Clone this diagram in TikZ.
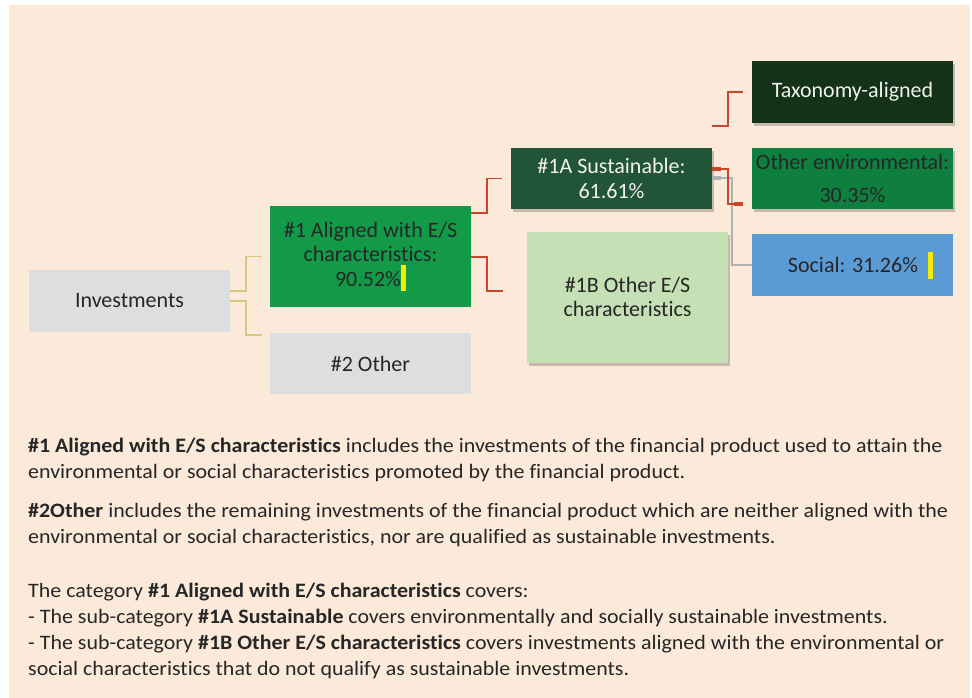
\documentclass[tikz,border=0pt]{standalone}
\usepackage{fontspec}
\setmainfont{Carlito}[Ligatures=NoCommon]
\newfontfamily\bodyfont{Carlito}[Ligatures=NoCommon,FakeStretch=1.07]
\usetikzlibrary{shadows}
\definecolor{bgpeach}{HTML}{FBEADA}
\definecolor{boxgray}{HTML}{DDDEE0}
\definecolor{greenA}{HTML}{139A48}
\definecolor{greenS}{HTML}{225438}
\definecolor{greenT}{HTML}{133217}
\definecolor{greenE}{HTML}{0F7F3F}
\definecolor{blueS}{HTML}{5B9BD5}
\definecolor{greenL}{HTML}{C5E0B4}
\definecolor{redc}{HTML}{C8472B}
\definecolor{yelc}{HTML}{D6C67E}
\definecolor{grayc}{HTML}{B0B0B0}
\definecolor{ybar}{HTML}{F5EC00}
\definecolor{darktext}{HTML}{262626}
\definecolor{lighttext}{HTML}{F2F2F2}
\tikzset{
  box/.style={rectangle, inner sep=0pt, align=center, text=darktext,
    font=\fontsize{22}{24.5}\selectfont},
  shad/.style={drop shadow={shadow xshift=2pt, shadow yshift=-3pt, opacity=0.3, fill=black!70}},
  yelline/.style={draw=yelc, line width=1.6pt},
  redline/.style={draw=redc, line width=1.8pt},
  grayline/.style={draw=grayc, line width=1.6pt},
  bodytext/.style={anchor=base west, align=left, inner sep=0pt, text=darktext,
    font=\bodyfont\fontsize{20.5}{26}\selectfont},
}
\begin{document}
\begin{tikzpicture}[x=1pt,y=-1pt]
\useasboundingbox (0,0) rectangle (972,698);
\fill[white] (0,0) rectangle (972,698);
\fill[bgpeach] (9,5) rectangle (970,698);

\node[box, fill=boxgray, minimum width=201pt, minimum height=62pt] (inv) at (129.5,301) {Investments};
\node[box, fill=greenA, minimum width=201pt, minimum height=101pt] (a1) at (370.5,256.5)
  {\#1 Aligned with E/S\\characteristics:\\90.52\%\textcolor{ybar}{\rule[-5pt]{5pt}{26pt}}};
\node[box, fill=boxgray, minimum width=201pt, minimum height=61pt] (a2) at (370.5,363.5) {\#2 Other};
\node[box, shad, fill=greenS, text=lighttext, minimum width=201pt, minimum height=61pt] (s1a) at (611.5,178.5)
  {\#1A Sustainable:\\61.61\%};
\node[box, shad, fill=greenL, minimum width=201pt, minimum height=131pt] (s1b) at (627.5,297)
  {\#1B Other E/S\\characteristics};
\node[box, shad, fill=greenT, text=lighttext, minimum width=201pt, minimum height=62pt] (tax) at (852.5,92)
  {Taxonomy-aligned};
\node[box, shad, fill=greenE, minimum width=201pt, minimum height=61pt] (env) at (852.5,178.5)
  {Other environmental:\\[9pt]30.35\%};
\node[box, fill=blueS, minimum width=201pt, minimum height=62pt] (soc) at (852.5,265)
  {\hspace*{16pt}Social: 31.26\%\hspace{10pt}\textcolor{ybar}{\rule[-6.5pt]{5pt}{27pt}}};

% connectors from Investments
\draw[yelline] ([yshift=10pt]inv.east) -- ++(16,0) |- ([xshift=-8pt]a1.west);
\draw[yelline] (inv.east) -- ++(16,0) |- ([xshift=-8pt,yshift=-2pt]a2.north west);

% connectors from #1
\draw[redline] ([yshift=43.5pt]a1.east) -- ++(16,0) |- ([xshift=-9pt]s1a.west);
\draw[redline] ([yshift=-0.5pt]a1.east) -- ++(16,0) |- ([xshift=-24pt,yshift=6pt]s1b.west);

% connectors from #1A
\coordinate (taxfree) at ([yshift=22pt]s1a.north east);
\draw[redline] (taxfree) -- ++(16,0) |- ([xshift=-9pt]tax.west);
\draw[grayline] ([yshift=0.5pt]s1a.east) -- ++(20,0) |- (soc.west);
\draw[draw=grayc, line width=3.5pt] ([yshift=0.5pt]s1a.east) -- ++(9,0);
\draw[redline] ([yshift=9.5pt]s1a.east) -- ++(16,0) |- ([xshift=-9pt,yshift=-25.5pt]env.west);
\draw[draw=redc, line width=3.8pt] ([yshift=9.5pt]s1a.east) -- ++(9,0);
\draw[draw=redc, line width=3.8pt] ([xshift=-9pt,yshift=-25.5pt]env.west) -- ++(-9,0);

% body text (anchor = baseline of last line)
\node[bodytext] (p1) at (28,478) {\textbf{\#1 Aligned with E/S characteristics} includes the investments of the financial product used to attain the\\
environmental or social characteristics promoted by the financial product.};
\node[bodytext] (p2) at (28,543) {\textbf{\#2Other} includes the remaining investments of the financial product which are neither aligned with the\\
environmental or social characteristics, nor are qualified as sustainable investments.};
\node[bodytext] (p3) at (28,675) {The category \textbf{\#1 Aligned with E/S characteristics} covers:\\
- The sub-category \textbf{\#1A Sustainable} covers environmentally and socially sustainable investments.\\
- The sub-category \textbf{\#1B Other E/S characteristics} covers investments aligned with the environmental or\\
social characteristics that do not qualify as sustainable investments.};
\end{tikzpicture}
\end{document}
